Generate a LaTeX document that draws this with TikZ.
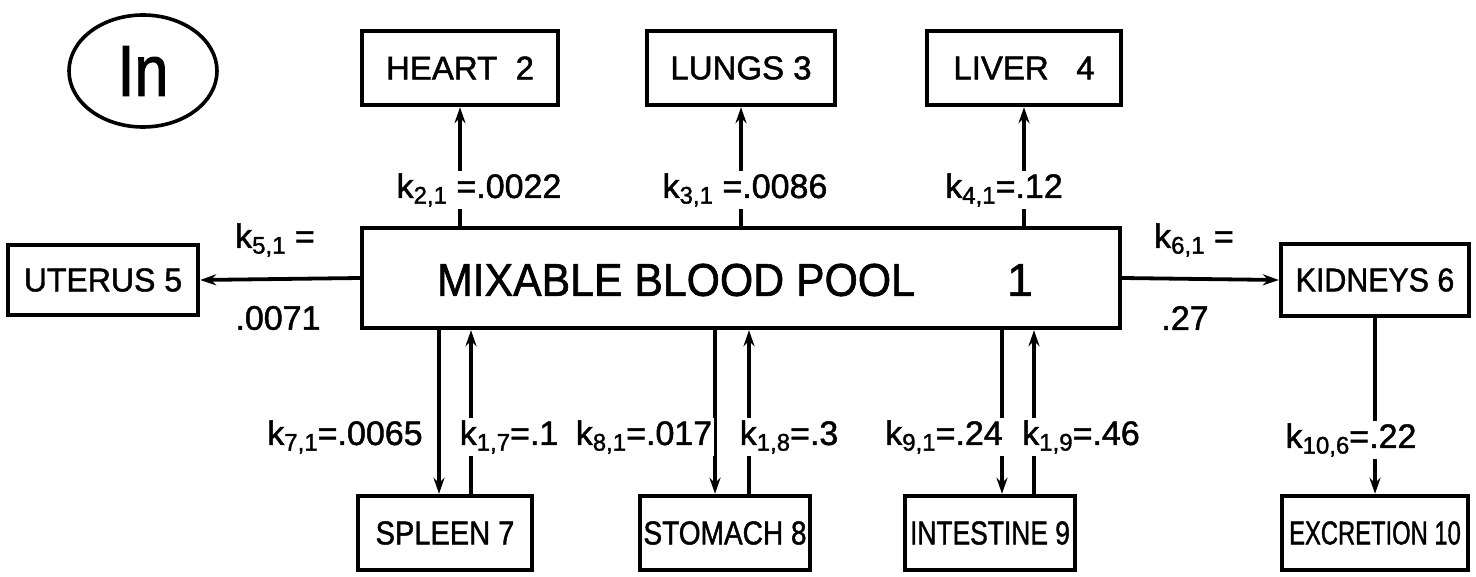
\documentclass[tikz,border=0pt]{standalone}
\usepackage{graphicx}
\usepackage{fontspec}
\setmainfont{Liberation Sans}[FakeBold=1.4]
\usetikzlibrary{arrows.meta,shapes.geometric}
\newcommand\kk[1]{k\raisebox{-2.8pt}{\fontsize{12}{12}\selectfont #1}}
\newcommand\sq[2]{\scalebox{#1}[1]{#2}}
\begin{document}
\begin{tikzpicture}[x=0.5pt,y=-0.5pt,
  box/.style={draw, line width=2.2pt, inner sep=0pt, minimum height=37pt,
    font=\fontsize{16.5}{16.5}\selectfont},
  flow/.style={line width=1.9pt, -{Stealth[length=8pt,width=5.5pt]}},
  lab/.style={font=\fontsize{17}{17}\selectfont, inner sep=1pt, fill=white}]
\useasboundingbox (0,0) rectangle (1476,577);
% source
\node[draw, ellipse, line width=1.8pt, minimum width=74pt, minimum height=56pt,
  font=\fontsize{36}{36}\selectfont] (in) at (143,71) {\sq{0.85}{In}};
% top organs
\node[box, minimum width=98pt] (heart) at (460,68) {HEART\ \ 2};
\node[box, minimum width=94pt] (lungs) at (741,68) {LUNGS 3};
\node[box, minimum width=97pt] (liver) at (1024,68) {LIVER\ \ \ 4};
% central pool
\node[box, minimum width=379pt, minimum height=50pt] (pool) at (741,278) {};
\node[font=\fontsize{23}{23}\selectfont] (pooltxt) at (676,280) {\sq{0.93}{MIXABLE\ BLOOD\ POOL}};
\node[font=\fontsize{23}{23}\selectfont] (one) at (1020,280) {1};
% side organs
\node[box, minimum width=95pt, minimum height=35pt] (uterus) at (103,280) {\sq{0.97}{UTERUS 5}};
\node[box, minimum width=94pt, minimum height=36pt] (kidneys) at (1375,280) {\sq{0.92}{KIDNEYS 6}};
% bottom organs
\node[box, minimum width=87pt] (spleen) at (445,533) {\sq{0.88}{SPLEEN 7}};
\node[box, minimum width=85pt] (stomach) at (725,533) {\sq{0.85}{STOMACH 8}};
\node[box, minimum width=85pt] (intestine) at (990,533) {\sq{0.8}{INTESTINE 9}};
\node[box, minimum width=93pt] (excretion) at (1375,533) {\sq{0.72}{EXCRETION 10}};
% connectors up
\draw[flow] (heart.south |- pool.north) -- (heart.south);
\draw[flow] (lungs.south |- pool.north) -- (lungs.south);
\draw[flow] (liver.south |- pool.north) -- (liver.south);
% side connectors
\draw[flow] (pool.west) -- (uterus.east);
\draw[flow] (pool.east) -- (kidneys.west);
\draw[flow] (kidneys.south) -- (excretion.north);
% bottom pairs
\coordinate (s7d) at ([xshift=-3pt]spleen.north);
\coordinate (s7u) at ([xshift=13pt]spleen.north);
\coordinate (s8d) at ([xshift=-5pt]stomach.north);
\coordinate (s8u) at ([xshift=12pt]stomach.north);
\coordinate (s9d) at ([xshift=6pt]intestine.north);
\coordinate (s9u) at ([xshift=22pt]intestine.north);
\draw[flow] (s7d |- pool.south) -- (s7d);
\draw[flow] (s7u) -- (s7u |- pool.south);
\draw[flow] (s8d |- pool.south) -- (s8d);
\draw[flow] (s8u) -- (s8u |- pool.south);
\draw[flow] (s9d |- pool.south) -- (s9d);
\draw[flow] (s9u) -- (s9u |- pool.south);
% rate labels
\node[lab] (k21) at (479,190) {\kk{2,1} =.0022};
\node[lab] (k31) at (745,190) {\kk{3,1} =.0086};
\node[lab] (k41) at (1004,190) {\kk{4,1}=.12};
\node[lab, fill=none] (k51) at (275,240) {\kk{5,1} =};
\node[lab, fill=none] (k51v) at (278,318) {.0071};
\node[lab, fill=none] (k61) at (1194,240) {\kk{6,1} =};
\node[lab, fill=none] (k61v) at (1185,318) {.27};
\node[lab] (k71) at (345,437) {\kk{7,1}=.0065};
\node[lab] (k17) at (509,437) {\kk{1,7}=.1};
\node[lab] (k81) at (644,437) {\kk{8,1}=.017};
\node[lab] (k18) at (789,437) {\kk{1,8}=.3};
\node[lab] (k91) at (944,437) {\kk{9,1}=.24};
\node[lab] (k19) at (1081,437) {\kk{1,9}=.46};
\node[lab] (k106) at (1351,440) {\kk{10,6}=.22};
\end{tikzpicture}
\end{document}
